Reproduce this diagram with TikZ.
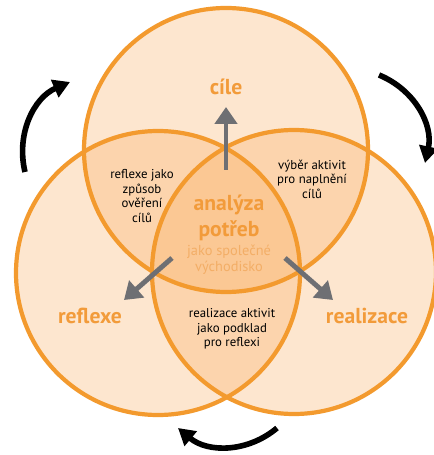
\documentclass[tikz,border=0pt]{standalone}
\usepackage{fontspec}
\setmainfont{PT Sans}
\usetikzlibrary{arrows.meta}
\definecolor{vennline}{HTML}{F39A2E}
\definecolor{vennfill}{HTML}{F8A654}
\definecolor{vennlabel}{HTML}{F29B3A}
\definecolor{vennsub}{HTML}{F3AE66}
\definecolor{flowgray}{HTML}{6E6F73}
\tikzset{
  venn/.style={fill=vennfill, fill opacity=0.28},
  vennrim/.style={draw=vennline, line width=2.4pt},
  big/.style={text=vennlabel, font=\bfseries\fontsize{12.3}{15}\selectfont, align=center},
  sub/.style={text=vennsub, font=\fontsize{8.2}{9}\selectfont, align=center},
  note/.style={text=black, font=\fontsize{7.3}{8.2}\selectfont, align=center},
  flow/.style={draw=flowgray, line width=2.8pt, -{Triangle[length=9.6pt,width=12.5pt]}},
  turn/.style={draw=black, line width=3.2pt, -{Triangle[length=9.5pt,width=10.5pt]}, bend left=40}
}

\begin{document}
\begin{tikzpicture}[x=0.02cm,y=-0.02cm]
  \useasboundingbox (0,0) rectangle (433,455);

  % the three circles
  \coordinate (top) at (226,150);
  \coordinate (lft) at (158,273);
  \coordinate (rgt) at (294,272);
  \foreach \c in {top,lft,rgt} {
    \fill[venn] (\c) circle (142);
  };
  \foreach \c in {top,lft,rgt} {
    \draw[vennrim] (\c) circle (142);
  };

  % labels
  \node[big] (goal) at (226,87) {cíle};
  \node[big] (refl) at (90,316) {reflexe};
  \node[big] (real) at (367,316) {realizace};
  \node[big] (core) at (229,218) {analýza\\potřeb};
  \node[sub] (base) at (229,260) {jako společné\\východisko};
  \node[note] (lt) at (142,196) {reflexe jako\\způsob\\ověření\\cílů};
  \node[note] (rt) at (312,179) {výběr aktivit\\pro naplnění\\cílů};
  \node[note] (bt) at (232,329) {realizace aktivit\\jako podklad\\pro reflexi};

  % gray arrows out of the centre
  \coordinate (up0) at (226,170);
  \coordinate (up1) at (226,107);
  \coordinate (dl0) at (172,258);
  \coordinate (dl1) at (124,300);
  \coordinate (dr0) at (285,258);
  \coordinate (dr1) at (333,300);
  \draw[flow] (up0) -- (up1);
  \draw[flow] (dl0) -- (dl1);
  \draw[flow] (dr0) -- (dr1);

  % black cycle arrows
  \coordinate (c1a) at (25,172);
  \coordinate (c1b) at (70,82);
  \coordinate (c2a) at (379,75);
  \coordinate (c2b) at (425,163);
  \coordinate (c3a) at (277,428);
  \coordinate (c3b) at (178,428);
  \draw[turn] (c1a) to (c1b);
  \draw[turn] (c2a) to (c2b);
  \draw[turn] (c3a) to (c3b);
\end{tikzpicture}
\end{document}
